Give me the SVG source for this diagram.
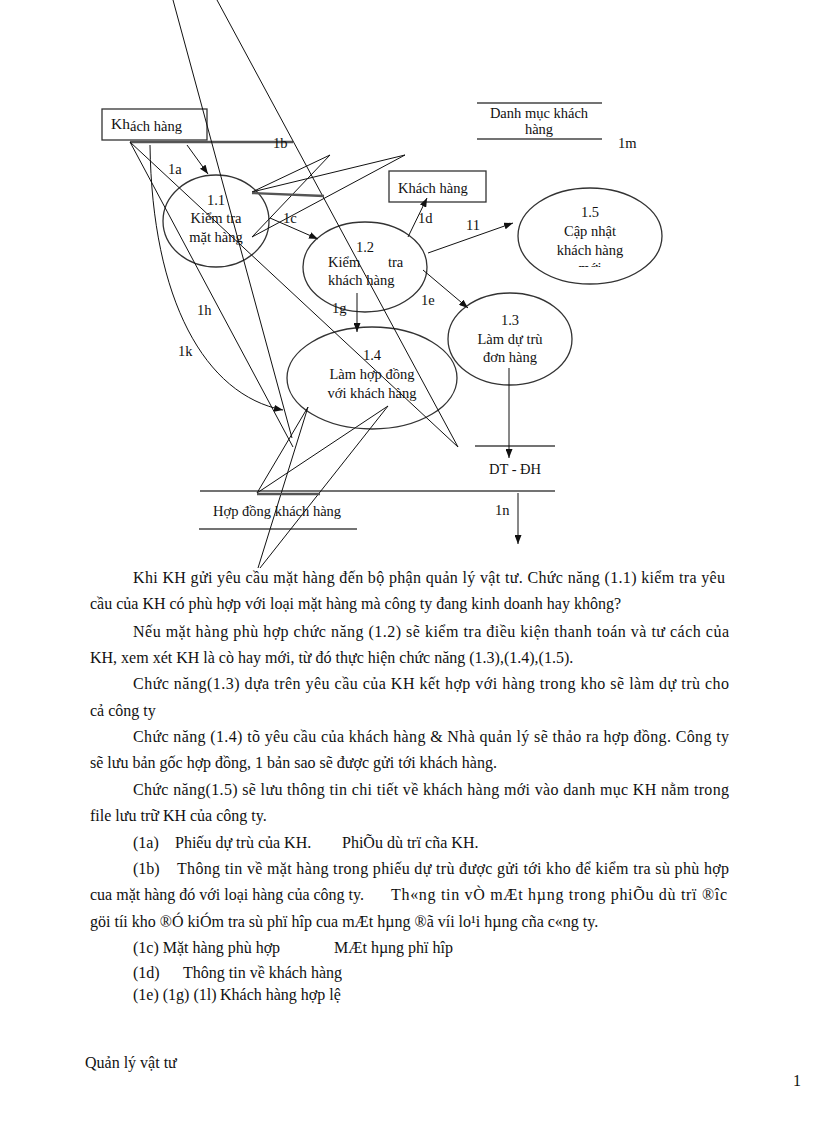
<svg xmlns="http://www.w3.org/2000/svg" width="816" height="1123" viewBox="0 0 816 1123">
<style>
.t{font-family:"Liberation Serif","Times New Roman",serif;font-size:14.5px;fill:#111}
.p{font-family:"Liberation Serif","Times New Roman",serif;font-size:16px;fill:#111}
.ln{stroke:#111;stroke-width:1;fill:none}
.el{stroke:#333;stroke-width:1.3;fill:none}
.st{stroke:#444;stroke-width:1.6;fill:none}
.th{stroke:#555;stroke-width:2.4;fill:none}
.bx{stroke:#333;stroke-width:1.3;fill:#fff}
</style>
<defs>
<marker id="ah" markerWidth="9" markerHeight="7" refX="9" refY="3.5" orient="auto" markerUnits="userSpaceOnUse">
<path d="M0,0 L9,3.5 L0,7 z" fill="#111"/>
</marker>
<clipPath id="cut"><rect x="570" y="256" width="40" height="11"/></clipPath>
</defs>
<rect width="816" height="1123" fill="#fff"/>

<g id="kh1">
<rect class="bx" x="102" y="109" width="105" height="31"/>
<text class="t" x="111" y="129"><tspan style="font-size:15.5px">Kh</tspan><tspan dy="2">ách hàng</tspan></text>
</g>
<g id="kh2">
<rect class="bx" x="389" y="171" width="97" height="31"/>
<text class="t" x="398" y="193">Khách hàng</text>
</g>
<g id="danhmuc">
<line class="st" x1="477" y1="103" x2="602" y2="103"/>
<line class="st" x1="477" y1="139" x2="602" y2="139"/>
<text class="t" x="539" y="118" text-anchor="middle">Danh mục khách</text>
<text class="t" x="539" y="134" text-anchor="middle">hàng</text>
</g>
<g id="n11">
<ellipse class="el" cx="216" cy="221" rx="53" ry="46"/>
<text class="t" x="216" y="205" text-anchor="middle">1.1</text>
<text class="t" x="216" y="223" text-anchor="middle">Kiểm tra</text>
<text class="t" x="216" y="242" text-anchor="middle">mặt hàng</text>
</g>
<g id="n12">
<ellipse class="el" cx="365" cy="267" rx="62" ry="45"/>
<text class="t" x="365" y="252" text-anchor="middle">1.2</text>
<text class="t" x="328" y="267">Kiểm</text>
<text class="t" x="388" y="267">tra</text>
<text class="t" x="328" y="285">khách hàng</text>
</g>
<g id="n15">
<ellipse class="el" cx="590" cy="236" rx="72" ry="48"/>
<text class="t" x="590" y="217" text-anchor="middle">1.5</text>
<text class="t" x="590" y="236" text-anchor="middle">Cập nhật</text>
<text class="t" x="590" y="255" text-anchor="middle">khách hàng</text>
<text class="t" x="590" y="273" text-anchor="middle" clip-path="url(#cut)">mới</text>
</g>
<g id="n13">
<ellipse class="el" cx="510" cy="339" rx="62" ry="46"/>
<text class="t" x="510" y="325" text-anchor="middle">1.3</text>
<text class="t" x="510" y="344" text-anchor="middle">Làm dự trù</text>
<text class="t" x="510" y="362" text-anchor="middle">đơn hàng</text>
</g>
<g id="n14">
<ellipse class="el" cx="372" cy="378" rx="85" ry="51"/>
<text class="t" x="372" y="360" text-anchor="middle">1.4</text>
<text class="t" x="372" y="379" text-anchor="middle">Làm hợp đồng</text>
<text class="t" x="372" y="398" text-anchor="middle">với khách hàng</text>
</g>
<g id="dtdh">
<line class="st" x1="475" y1="446" x2="555" y2="446"/>
<line class="st" x1="200" y1="491" x2="555" y2="491"/>
<text class="t" x="515" y="474" text-anchor="middle">DT - ĐH</text>
</g>
<g id="hopdong">
<line class="st" x1="199" y1="529" x2="357" y2="529"/>
<text class="t" x="213" y="516">Hợp đồng khách hàng</text>
</g>

<g id="connectors">
<line class="th" x1="130" y1="142" x2="293" y2="142"/>
<line class="ln" x1="187" y1="145" x2="208" y2="174" marker-end="url(#ah)"/>
<line class="ln" x1="270" y1="218" x2="318" y2="239" marker-end="url(#ah)"/>
<line class="ln" x1="408" y1="237" x2="427" y2="198" marker-end="url(#ah)"/>
<line class="ln" x1="428" y1="253" x2="513" y2="223" marker-end="url(#ah)"/>
<line class="ln" x1="423" y1="270" x2="468" y2="308" marker-end="url(#ah)"/>
<line class="ln" x1="357" y1="293" x2="357" y2="332" marker-end="url(#ah)"/>
<line class="ln" x1="509" y1="368" x2="509" y2="458" marker-end="url(#ah)"/>
<line class="ln" x1="518" y1="493" x2="518" y2="544" marker-end="url(#ah)"/>
<path class="ln" d="M150,145 C152,300 205,395 283,410" marker-end="url(#ah)"/>
<line class="ln" x1="173" y1="0" x2="292" y2="438"/>
<line class="ln" x1="217" y1="0" x2="458" y2="447"/>
<line class="ln" x1="130" y1="142" x2="458" y2="447"/>
<line class="ln" x1="130" y1="142" x2="293" y2="447"/>
<line class="ln" x1="252" y1="192" x2="330" y2="155"/>
<line class="ln" x1="252" y1="192" x2="405" y2="155"/>
<line class="ln" x1="252" y1="237" x2="330" y2="155"/>
<line class="ln" x1="252" y1="237" x2="405" y2="155"/>
<line class="th" x1="252" y1="193" x2="324" y2="196"/>
<line class="ln" x1="257" y1="493" x2="308" y2="407"/>
<line class="ln" x1="257" y1="493" x2="388" y2="406"/>
<line class="ln" x1="258" y1="568" x2="308" y2="407"/>
<line class="ln" x1="260" y1="568" x2="388" y2="406"/>
<line class="th" x1="257" y1="494" x2="320" y2="494"/>
</g>

<g id="labels">
<text class="t" x="168" y="174">1a</text>
<text class="t" x="273" y="148">1b</text>
<text class="t" x="283" y="223">1c</text>
<text class="t" x="418" y="223">1d</text>
<text class="t" x="421" y="305">1e</text>
<text class="t" x="332" y="313">1g</text>
<text class="t" x="197" y="315">1h</text>
<text class="t" x="178" y="356">1k</text>
<text class="t" x="466" y="230">11</text>
<text class="t" x="618" y="148">1m</text>
<text class="t" x="495" y="515">1n</text>
</g>

<g id="body">
<text class="p" x="133" y="583" textLength="592" lengthAdjust="spacing">Khi KH gửi yêu cầu mặt hàng đến bộ phận quản lý vật tư. Chức năng (1.1) kiểm tra yêu</text>
<text class="p" x="90" y="609">cầu của KH có phù hợp với loại mặt hàng mà công ty đang kinh doanh hay không?</text>
<text class="p" x="133" y="637" textLength="596" lengthAdjust="spacing">Nếu mặt hàng phù hợp chức năng (1.2) sẽ kiểm tra điều kiện thanh toán và tư cách của</text>
<text class="p" x="90" y="663">KH, xem xét KH là cò hay mới, từ đó thực hiện chức năng (1.3),(1.4),(1.5).</text>
<text class="p" x="133" y="689" textLength="596" lengthAdjust="spacing">Chức năng(1.3) dựa trên yêu cầu của KH kết hợp với hàng trong kho sẽ làm dự trù cho</text>
<text class="p" x="90" y="716">cả công ty</text>
<text class="p" x="133" y="742" textLength="596" lengthAdjust="spacing">Chức năng (1.4) tõ yêu cầu của khách hàng &amp; Nhà quản lý sẽ thảo ra hợp đồng. Công ty</text>
<text class="p" x="90" y="768">sẽ lưu bản gốc hợp đồng, 1 bản sao sẽ được gửi tới khách hàng.</text>
<text class="p" x="133" y="795" textLength="596" lengthAdjust="spacing">Chức năng(1.5) sẽ lưu thông tin chi tiết về khách hàng mới vào danh mục KH nằm trong</text>
<text class="p" x="90" y="821">file lưu trữ KH của công ty.</text>
<text class="p" x="133" y="848">(1a)</text>
<text class="p" x="175" y="848">Phiếu dự trù của KH.</text>
<text class="p" x="342" y="848">PhiÕu dù trï cña KH.</text>
<text class="p" x="133" y="874">(1b)</text>
<text class="p" x="177" y="874" textLength="552" lengthAdjust="spacing">Thông tin về mặt hàng trong phiếu dự trù được gửi tới kho để kiểm tra sù phù hợp</text>
<text class="p" x="90" y="900">cua mặt hàng đó với loại hàng của công ty.</text>
<text class="p" x="391" y="900" textLength="336" lengthAdjust="spacing">Th«ng  tin vÒ  mÆt hµng  trong phiÕu  dù trï ®îc</text>
<text class="p" x="90" y="927">göi tíi kho ®Ó kiÓm tra sù phï hîp cua mÆt hµng ®ã víi lo¹i hµng  cña c«ng ty.</text>
<text class="p" x="133" y="953">(1c) Mặt hàng phù hợp</text>
<text class="p" x="334" y="953">MÆt hµng phï hîp</text>
<text class="p" x="133" y="978">(1d)</text>
<text class="p" x="183" y="978">Thông tin về khách hàng</text>
<text class="p" x="133" y="1000">(1e) (1g) (1l)</text>
<text class="p" x="220" y="1000">Khách hàng hợp lệ</text>
</g>
<g id="footer">
<text class="p" x="85" y="1068">Quản  lý vật  tư</text>
<text class="p" x="793" y="1086">1</text>
</g>
</svg>
